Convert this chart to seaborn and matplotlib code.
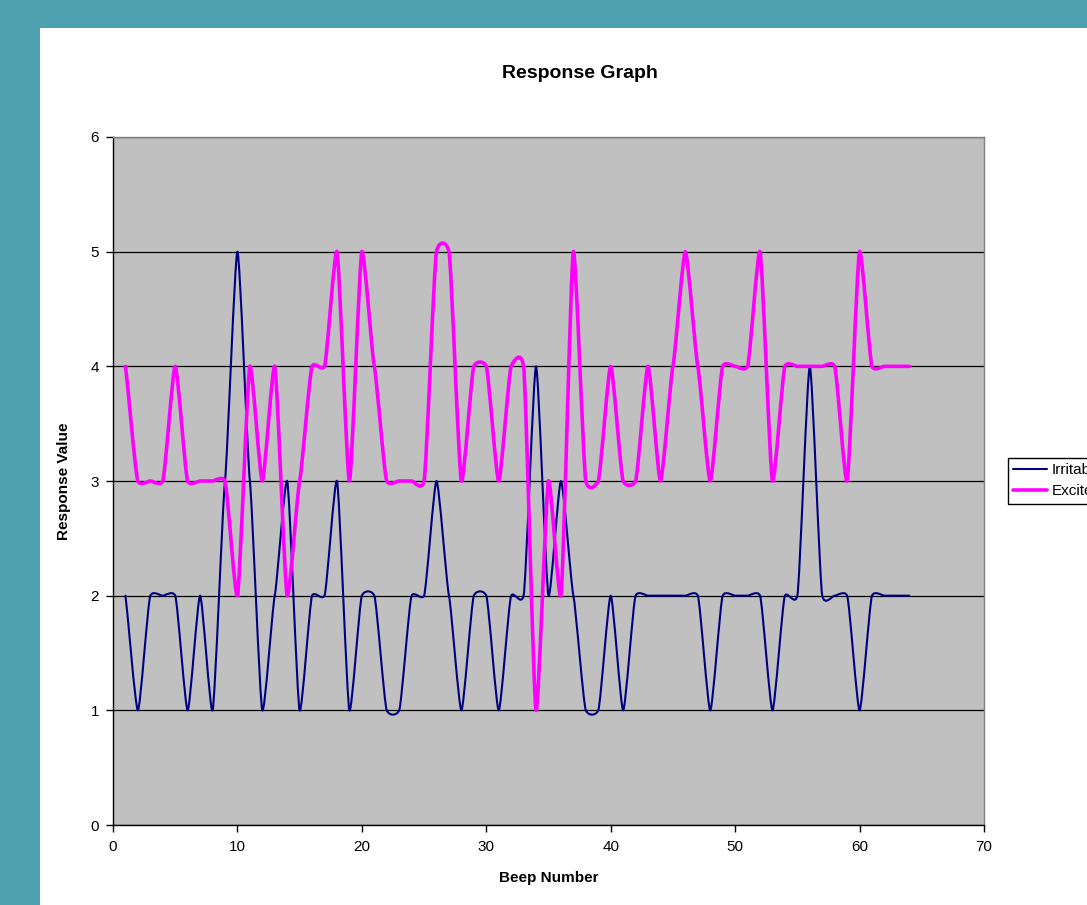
import numpy as np
import pandas as pd
import matplotlib
matplotlib.use("Agg")
import matplotlib.pyplot as plt
import seaborn as sns
from matplotlib.path import Path
from matplotlib.patches import PathPatch, Rectangle
from matplotlib.lines import Line2D

# ---------------- data ----------------
beeps = list(range(1, 65))
irritable = [2, 1, 2, 2, 2, 1, 2, 1, 3, 5,
             3, 1, 2, 3, 1, 2, 2, 3, 1, 2,
             2, 1, 1, 2, 2, 3, 2, 1, 2, 2,
             1, 2, 2, 4, 2, 3, 2, 1, 1, 2,
             1, 2, 2, 2, 2, 2, 2, 1, 2, 2,
             2, 2, 1, 2, 2, 4, 2, 2, 2, 1,
             2, 2, 2, 2]
excited = [4, 3, 3, 3, 4, 3, 3, 3, 3, 2,
           4, 3, 4, 2, 3, 4, 4, 5, 3, 5,
           4, 3, 3, 3, 3, 5, 5, 3, 4, 4,
           3, 4, 4, 1, 3, 2, 5, 3, 3, 4,
           3, 3, 4, 3, 4, 5, 4, 3, 4, 4,
           4, 5, 3, 4, 4, 4, 4, 4, 3, 5,
           4, 4, 4, 4]
series_names = ["Irritable", "Excited"]
x_ticks = [0, 10, 20, 30, 40, 50, 60, 70]
y_ticks = [0, 1, 2, 3, 4, 5, 6]

colors = {"Irritable": "#000080", "Excited": "#FF00FF"}
widths = {"Irritable": 1.5, "Excited": 2.6}
SMOOTH_X, SMOOTH_Y = 0.6, 0.3  # Excel-like mild smoothing strength

df = pd.DataFrame({
    "Beep Number": beeps * 2,
    "Response Value": irritable + excited,
    "Series": ["Irritable"] * len(beeps) + ["Excited"] * len(beeps),
})

sns.set_style("white")
plt.rcParams["font.family"] = ["Liberation Sans", "DejaVu Sans"]
plt.rcParams["text.color"] = "black"
plt.rcParams["axes.labelcolor"] = "black"

W, H = 1087, 905
fig = plt.figure(figsize=(W / 100, H / 100), dpi=100, facecolor="#4FA0AE")
panel = Rectangle((40 / W, 0), 1, 1 - 28 / H, transform=fig.transFigure,
                  facecolor="white", edgecolor="none", zorder=-10)
fig.patches.append(panel)

ax = fig.add_axes([113 / W, 80 / H, 871 / W, 688 / H])
ax.set_zorder(1)
ax.set_facecolor("#C0C0C0")

sns.lineplot(data=df, x="Beep Number", y="Response Value", hue="Series",
             hue_order=series_names, palette=colors, legend=False, ax=ax,
             sort=False, estimator=None)


def smooth_path(x, y, kx, ky):
    pts = np.column_stack([x, y]).astype(float)
    ext = np.vstack([pts[0], pts, pts[-1]])
    k = np.array([kx, ky])
    verts = [pts[0]]
    codes = [Path.MOVETO]
    for i in range(len(pts) - 1):
        p0, p1, p2, p3 = ext[i], ext[i + 1], ext[i + 2], ext[i + 3]
        c1 = p1 + (p2 - p0) / 6.0 * k
        c2 = p2 - (p3 - p1) / 6.0 * k
        verts += [c1, c2, p2]
        codes += [Path.CURVE4] * 3
    return Path(verts, codes)


for line, name in zip(list(ax.lines), series_names):
    xd, yd = line.get_xdata(), line.get_ydata()
    patch = PathPatch(smooth_path(xd, yd, SMOOTH_X, SMOOTH_Y), facecolor="none",
                      edgecolor=colors[name], lw=widths[name], zorder=3,
                      capstyle="round", joinstyle="round")
    ax.add_patch(patch)
    line.set_visible(False)

ax.set_xlim(0, 70)
ax.set_ylim(0, 6)
ax.set_xticks(x_ticks)
ax.set_yticks(y_ticks)
ax.yaxis.grid(True, color="black", lw=0.9)
ax.xaxis.grid(False)
ax.set_axisbelow(True)

for s in ["left", "bottom"]:
    ax.spines[s].set_color("black")
    ax.spines[s].set_linewidth(1.0)
for s in ["top", "right"]:
    ax.spines[s].set_color("#808080")
    ax.spines[s].set_linewidth(1.0)

ax.tick_params(axis="both", which="major", direction="out", length=5, width=1,
               color="black", labelsize=11, labelcolor="black", bottom=True, left=True)
ax.tick_params(axis="x", pad=6)
ax.tick_params(axis="y", pad=5)

ax.set_xlabel("Beep Number", fontsize=11, fontweight="bold", labelpad=12, color="black")
ax.set_ylabel("Response Value", fontsize=11, fontweight="bold", labelpad=14, color="black")

fig.text(580 / W, 1 - 73 / H, "Response Graph", ha="center", va="center",
         fontsize=14, fontweight="bold", color="black")

handles = [Line2D([0], [0], color=colors[n], lw=widths[n]) for n in series_names]
leg = ax.legend(handles, series_names, loc="upper left",
                bbox_to_anchor=(1008 / W, 1 - 458 / H), bbox_transform=fig.transFigure,
                frameon=True, fancybox=False, edgecolor="black", framealpha=1,
                facecolor="white", borderpad=0.35, handlelength=2.2, handletextpad=0.3,
                labelspacing=0.45, fontsize=11, borderaxespad=0)
leg.get_frame().set_linewidth(1.0)
for t in leg.get_texts():
    t.set_color("black")

fig.savefig("out.png", dpi=100, facecolor=fig.get_facecolor())
